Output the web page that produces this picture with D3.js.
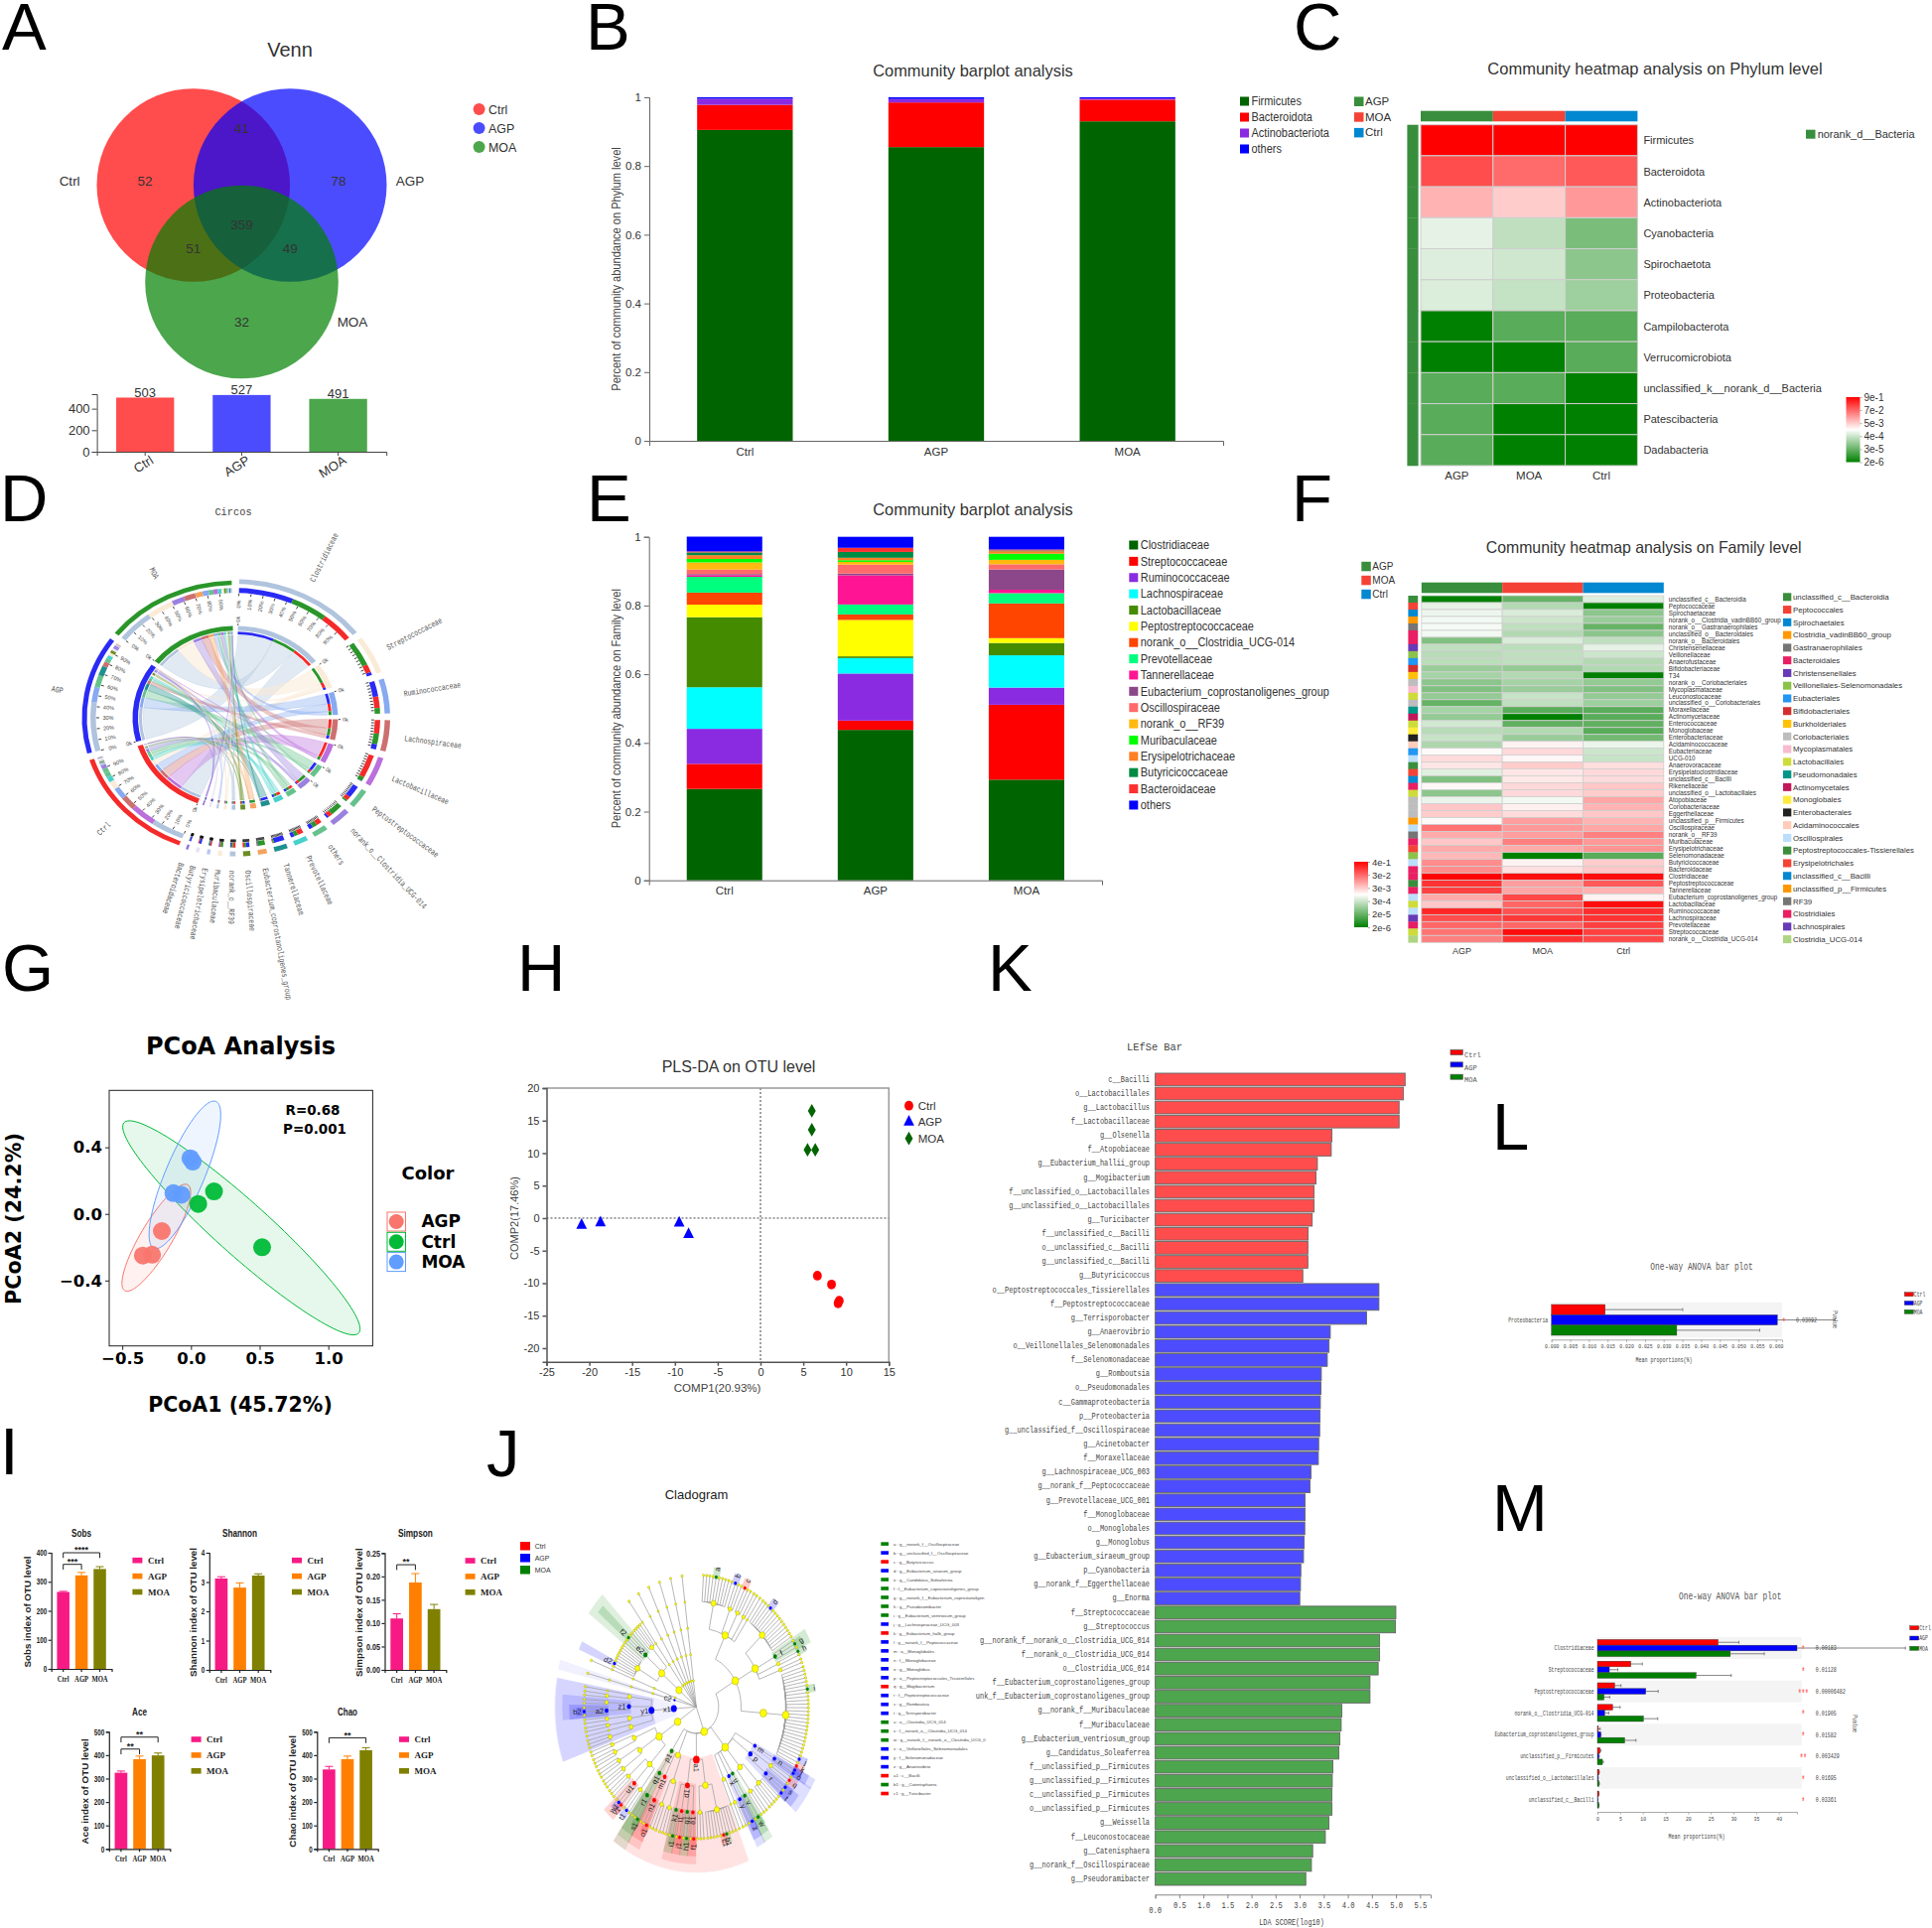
<!DOCTYPE html>
<html>
<head>
<meta charset="utf-8">
<title>Gut microbiota panels</title>
<script src="https://cdnjs.cloudflare.com/ajax/libs/d3/7.8.5/d3.min.js"></script>
<style>
body { margin: 0; background: #fff; }
</style>
</head>
<body>
<div id="figure"></div>
<script>
// ---------- data ----------
const groups = ['Ctrl', 'AGP', 'MOA'];

// A venn
const vennCounts = [52, 41, 78, 359, 51, 49, 32];
const vennTotals = [503, 527, 491];

// B phylum barplot
const phylumNames = ['Firmicutes', 'Bacteroidota', 'Actinobacteriota', 'others'];
const phylumColors = ['#006400', '#ff0000', '#8a2be2', '#0000ff'];
const phylumCtrl = [0.905, 0.073, 0.018, 0.004];
const phylumAgp = [0.855, 0.13, 0.01, 0.005];
const phylumMoa = [0.93, 0.063, 0.004, 0.003];

// C phylum heatmap, -1 = 2e-6 (green), 0 = white, 1 = 9e-1 (red)
const heatCols = ['AGP', 'MOA', 'Ctrl'];
const heatColColors = ['#388e3c', '#f44336', '#0288d1'];
const phylumRows = ['Firmicutes', 'Bacteroidota', 'Actinobacteriota', 'Cyanobacteria', 'Spirochaetota', 'Proteobacteria', 'Campilobacterota', 'Verrucomicrobiota', 'unclassified_k__norank_d__Bacteria', 'Patescibacteria', 'Dadabacteria'];
const phylumHeatAgp = [1, 0.7, 0.3, -0.1, -0.13, -0.14, -1, -1, -0.65, -0.65, -0.65];
const phylumHeatMoa = [1, 0.58, 0.2, -0.25, -0.19, -0.23, -0.65, -1, -0.65, -1, -1];
const phylumHeatCtrl = [1, 0.65, 0.4, -0.52, -0.45, -0.38, -0.65, -0.65, -1, -1, -1];
const phylumTicks = ['9e-1', '7e-2', '5e-3', '4e-4', '3e-5', '2e-6'];

// E family barplot
const familyNames = ['Clostridiaceae', 'Streptococcaceae', 'Ruminococcaceae', 'Lachnospiraceae', 'Lactobacillaceae', 'Peptostreptococcaceae', 'norank_o__Clostridia_UCG-014', 'Prevotellaceae', 'Tannerellaceae', 'Eubacterium_coprostanoligenes_group', 'Oscillospiraceae', 'norank_o__RF39', 'Muribaculaceae', 'Erysipelotrichaceae', 'Butyricicoccaceae', 'Bacteroidaceae', 'others'];
const familyColors = ['#006400', '#ff0000', '#8a2be2', '#00ffff', '#458b00', '#ffff00', '#ff4500', '#00ff7f', '#ff1493', '#8b4789', '#ff6a6a', '#ffb90f', '#00ff00', '#ff7f24', '#008b45', '#ff3030', '#0000ff'];
const familyCtrl = [0.266, 0.073, 0.102, 0.121, 0.204, 0.0365, 0.035, 0.046, 0.005, 0.003, 0.013, 0.021, 0.01, 0.011, 0.008, 0.003, 0.043];
const familyAgp = [0.438, 0.027, 0.137, 0.045, 0.005, 0.106, 0.016, 0.029, 0.085, 0.005, 0.026, 0.008, 0.005, 0.007, 0.017, 0.012, 0.032];
const familyMoa = [0.293, 0.218, 0.05, 0.094, 0.036, 0.014, 0.101, 0.03, 0.01, 0.059, 0.015, 0.013, 0.018, 0.007, 0.002, 0.003, 0.037];

// D circos
const circosOrder = ['Clostridiaceae', 'Streptococcaceae', 'Ruminococcaceae', 'Lachnospiraceae', 'Lactobacillaceae', 'Peptostreptococcaceae', 'norank_o__Clostridia_UCG-014', 'others', 'Prevotellaceae', 'Tannerellaceae', 'Eubacterium_coprostanoligenes_group', 'Oscillospiraceae', 'norank_o__RF39', 'Muribaculaceae', 'Erysipelotrichaceae', 'Butyricicoccaceae', 'Bacteroidaceae'];
const circosColors = ['#b0c4de', '#faebd7', '#87aaf0', '#cd7070', '#ba6fdc', '#66c28c', '#9b80e0', '#66c28c', '#48d1cc', '#1f8f8f', '#f4a460', '#6b8e23', '#b0c4de', '#faebd7', '#b8c8f0', '#e8e4f4', '#9370db'];
const circosSampleColors = ['#f52a2a', '#2a2af5', '#2a962a'];

// F family heatmap
const orderNames = ['unclassified_c__Bacteroidia', 'Peptococcales', 'Spirochaetales', 'Clostridia_vadinBB60_group', 'Gastranaerophilales', 'Bacteroidales', 'Christensenellales', 'Veillonellales-Selenomonadales', 'Eubacteriales', 'Bifidobacteriales', 'Burkholderiales', 'Coriobacteriales', 'Mycoplasmatales', 'Lactobacillales', 'Pseudomonadales', 'Actinomycetales', 'Monoglobales', 'Enterobacterales', 'Acidaminococcales', 'Oscillospirales', 'Peptostreptococcales-Tissierellales', 'Erysipelotrichales', 'unclassified_c__Bacilli', 'unclassified_p__Firmicutes', 'RF39', 'Clostridiales', 'Lachnospirales', 'Clostridia_UCG-014'];
const orderColors = ['#388e3c', '#f44336', '#0288d1', '#ff9800', '#757575', '#e91e63', '#673ab7', '#8bc34a', '#2196f3', '#d32f2f', '#ffc107', '#bdbdbd', '#f8bbd0', '#cddc39', '#009688', '#c2185b', '#ffeb3b', '#212121', '#ffccbc', '#bbdefb', '#388e3c', '#f44336', '#0288d1', '#ff9800', '#757575', '#e91e63', '#673ab7', '#aed581'];
const heatFamilyRows = ['unclassified_c__Bacteroidia', 'Peptococcaceae', 'Spirochaetaceae', 'norank_o__Clostridia_vadinBB60_group', 'norank_o__Gastranaerophilales', 'unclassified_o__Bacteroidales', 'norank_o__Bacteroidales', 'Christensenellaceae', 'Veillonellaceae', 'Anaerofustaceae', 'Bifidobacteriaceae', 'T34', 'norank_o__Coriobacteriales', 'Mycoplasmataceae', 'Leuconostocaceae', 'unclassified_o__Coriobacteriales', 'Moraxellaceae', 'Actinomycetaceae', 'Enterococcaceae', 'Monoglobaceae', 'Enterobacteriaceae', 'Acidaminococcaceae', 'Eubacteriaceae', 'UCG-010', 'Anaerovoracaceae', 'Erysipelatoclostridiaceae', 'unclassified_c__Bacilli', 'Rikenellaceae', 'unclassified_o__Lactobacillales', 'Atopobiaceae', 'Coriobacteriaceae', 'Eggerthellaceae', 'unclassified_p__Firmicutes', 'Oscillospiraceae', 'norank_o__RF39', 'Muribaculaceae', 'Erysipelotrichaceae', 'Selenomonadaceae', 'Butyricicoccaceae', 'Bacteroidaceae', 'Clostridiaceae', 'Peptostreptococcaceae', 'Tannerellaceae', 'Eubacterium_coprostanoligenes_group', 'Lactobacillaceae', 'Ruminococcaceae', 'Lachnospiraceae', 'Prevotellaceae', 'Streptococcaceae', 'norank_o__Clostridia_UCG-014'];
const heatFamilyOrder = [0, 1, 2, 3, 4, 5, 5, 6, 7, 8, 9, 10, 11, 12, 13, 11, 14, 15, 13, 16, 17, 18, 8, 19, 20, 21, 22, 5, 13, 11, 11, 11, 23, 19, 24, 5, 21, 7, 19, 5, 25, 20, 5, 19, 13, 19, 26, 5, 13, 27];
const familyHeatAgp = [-1, -0.1, -0.07, -0.05, -0.04, -0.05, -0.5, -0.25, -0.28, -0.27, -0.4, -0.35, -0.45, -0.5, -0.42, -0.6, -0.35, -0.42, -0.18, -0.28, -0.22, -0.32, 0.02, 0.14, 0.1, -0.12, -0.5, 0.03, -0.45, -0.08, 0.22, 0.2, 0.02, 0.55, 0.33, 0.22, 0.33, 0.28, 0.45, 0.45, 1, 0.8, 0.75, 0.33, 0.22, 0.85, 0.7, 0.6, 0.55, 0.5];
const familyHeatMoa = [-0.6, -0.3, -0.15, -0.2, -0.25, -0.3, -0.15, -0.27, -0.25, -0.25, -0.42, -0.3, -0.35, -0.4, -0.22, -0.25, -0.65, -1, -0.62, -0.3, -0.4, 0.05, 0.15, 0.03, 0.2, 0.1, 0.09, 0.15, 0.15, -0.05, 0.06, 0.14, 0.38, 0.4, 0.38, 0.5, 0.33, -1, 0.05, 0.12, 0.95, 0.38, 0.35, 0.72, 0.6, 0.68, 0.78, 0.6, 0.95, 0.8];
const familyHeatCtrl = [-0.13, -1, -0.45, -0.4, -0.6, -0.45, -0.25, -0.1, -0.2, -0.3, -0.3, -1, -0.42, -0.5, -0.42, -0.38, -0.65, -0.65, -0.62, -0.65, -0.55, -0.08, -0.2, -0.22, 0.13, 0.15, 0.14, 0.22, 0.2, 0.35, 0.3, 0.22, 0.3, 0.35, 0.5, 0.4, 0.42, -0.65, 0.2, 0.22, 0.95, 0.65, 0.3, 0.05, 0.95, 0.82, 0.8, 0.75, 0.75, 0.72];
const familyTicks = ['4e-1', '3e-2', '3e-3', '3e-4', '2e-5', '2e-6'];

// G PCoA
const pcoaGroups = ['AGP', 'Ctrl', 'MOA'];
const pcoaColors = ['#f8766d', '#00ba38', '#619cff'];
const pcoaX = [[-0.35, -0.283, -0.212], [0.053, 0.168, 0.518], [-0.004, 0.013, -0.128, -0.07]];
const pcoaY = [[-0.25, -0.245, -0.103], [0.06, 0.135, -0.2], [0.334, 0.314, 0.125, 0.115]];
// centre, half major axis, half minor axis of each ellipse, in axis units
const pcoaEllipses = [[-0.252, -0.143, 0.23, 0.318, 0.098, -0.048], [0.367, -0.0835, 0.854, -0.632, 0.13, 0.119], [-0.044, 0.2346, 0.226, 0.441, 0.13, -0.046]];

// H PLS-DA
const plsColors = ['#ff0000', '#0000ff', '#006400'];
const plsX = [[6.65, 8.3, 9.07, 9.2], [-20.9, -18.7, -9.5, -8.4], [6, 6, 5.5, 6.4]];
const plsY = [[-8.85, -10.2, -13.1, -12.7], [-1.1, -0.7, -0.75, -2.5], [16.5, 13.6, 10.5, 10.5]];

// I alpha diversity
const indexColors = ['#f81a84', '#ff8000', '#808000'];
const sobsValues = [265, 322, 344];
const sobsErrors = [2, 10, 8];
const shannonValues = [3.12, 2.81, 3.22];
const shannonErrors = [0.06, 0.16, 0.06];
const simpsonValues = [0.11, 0.187, 0.13];
const simpsonErrors = [0.01, 0.019, 0.01];
const aceValues = [325, 383, 399];
const aceErrors = [7, 13, 10];
const chaoValues = [339, 383, 421];
const chaoErrors = [13, 13, 11];

// J cladogram, written clockwise from the top in newick form
const cladeFirmicutes = [
  '(((,,,,a,,,,,),(b,,),(c,,),(,),()),((,,,d,,,,,,,,,,),(,g,)f,(h,),(,)),((,,,,,,i,,,,,,,,,,,,,,,,,,,j,,k)))',
  '(((l,o)n)m,((,q,),(s,,t)r)p,((,,,,),(,,)),((w,)v)u,((z,)y)x,((,),()))',
  '(((,,,b1,c1,,,,,),(,,)),((f1,)e1,(h1,)g1,(j1,)l1,(i1,)k1)d1)a1',
  '(((,,),(,,)),((o1,,)n1)m1)',
  '(((s1,,)r1)q1)p1'
];
const cladeOthers = [
  '((((,t1,),(v1,w1,)u1,(,,)),((,,),(,,)),((,,),(,))))',
  '((((,,),()),((,),(,)),((,b2,)a2,(,))z1,((,),()))y1)x1',
  '(((())))c2', '(((())))',
  '(((,d2,,,,,,,),(,,f2,,)e2,(,,,)))',
  '(((())))', '(((())))', '(((())))', '(((())))', '(((())))', '(((())))'
];
const cladeCtrl = ['c', 'k', 'q', 'a1', 'c1', 'd1', 'e1', 'f1', 'j1', 'l1', 'm1', 'n1', 'o1', 'u1', 'v1'];
const cladeAgp = ['b', 'd', 'j', 'l', 'm', 'n', 'o', 'p', 'r', 's', 't', 'x', 'y', 'z', 't1', 'w1', 'x1', 'y1', 'z1', 'a2', 'b2', 'c2', 'd2'];
const cladeMoa = ['a', 'e', 'f', 'g', 'h', 'i', 'u', 'v', 'w', 'b1', 'g1', 'h1', 'i1', 'k1', 'p1', 'q1', 'r1', 's1', 'e2', 'f2'];
const cladeLegend = ['a : g__norank_f__Oscillospiraceae', 'b : g__unclassified_f__Oscillospiraceae', 'c : g__Butyricicoccus', 'd : g__Eubacterium_siraeum_group', 'e : g__Candidatus_Soleaferrea', 'f : f__Eubacterium_coprostanoligenes_group', 'g : g__norank_f__Eubacterium_coprostanoligen', 'h : g__Pseudoramibacter', 'i : g__Eubacterium_ventriosum_group', 'j : g__Lachnospiraceae_UCG_003', 'k : g__Eubacterium_hallii_group', 'l : g__norank_f__Peptococcaceae', 'm : o__Monoglobales', 'n : f__Monoglobaceae', 'o : g__Monoglobus', 'p : o__Peptostreptococcales_Tissierellales', 'q : g__Mogibacterium', 'r : f__Peptostreptococcaceae', 's : g__Romboutsia', 't : g__Terrisporobacter', 'u : o__Clostridia_UCG_014', 'v : f__norank_o__Clostridia_UCG_014', 'w : g__norank_f__norank_o__Clostridia_UCG_0', 'x : o__Veillonellales_Selenomonadales', 'y : f__Selenomonadaceae', 'z : g__Anaerovibrio', 'a1 : c__Bacilli', 'b1 : g__Catenisphaera', 'c1 : g__Turicibacter'];
const cladeLegendGroups = [2, 1, 0, 1, 2, 2, 2, 2, 2, 1, 0, 1, 1, 1, 1, 1, 0, 1, 1, 1, 2, 2, 2, 1, 1, 1, 0, 2, 0];

// K LEfSe
const lefseCtrlNames = ['c__Bacilli', 'o__Lactobacillales', 'g__Lactobacillus', 'f__Lactobacillaceae', 'g__Olsenella', 'f__Atopobiaceae', 'g__Eubacterium_hallii_group', 'g__Mogibacterium', 'f__unclassified_o__Lactobacillales', 'g__unclassified_o__Lactobacillales', 'g__Turicibacter', 'f__unclassified_c__Bacilli', 'o__unclassified_c__Bacilli', 'g__unclassified_c__Bacilli', 'g__Butyricicoccus'];
const lefseCtrl = [5.19, 5.155, 5.065, 5.065, 3.67, 3.656, 3.368, 3.34, 3.3, 3.3, 3.26, 3.175, 3.17, 3.17, 3.065];
const lefseAgpNames = ['o__Peptostreptococcales_Tissierellales', 'f__Peptostreptococcaceae', 'g__Terrisporobacter', 'g__Anaerovibrio', 'o__Veillonellales_Selenomonadales', 'f__Selenomonadaceae', 'g__Romboutsia', 'o__Pseudomonadales', 'c__Gammaproteobacteria', 'p__Proteobacteria', 'g__unclassified_f__Oscillospiraceae', 'g__Acinetobacter', 'f__Moraxellaceae', 'g__Lachnospiraceae_UCG_003', 'g__norank_f__Peptococcaceae', 'g__Prevotellaceae_UCG_001', 'f__Monoglobaceae', 'o__Monoglobales', 'g__Monoglobus', 'g__Eubacterium_siraeum_group', 'p__Cyanobacteria', 'g__norank_f__Eggerthellaceae', 'g__Enorma'];
const lefseAgp = [4.646, 4.646, 4.39, 3.636, 3.61, 3.574, 3.45, 3.443, 3.43, 3.423, 3.416, 3.395, 3.388, 3.237, 3.216, 3.113, 3.113, 3.106, 3.093, 3.08, 3.024, 3.017, 3.003];
const lefseMoaNames = ['f__Streptococcaceae', 'g__Streptococcus', 'g__norank_f__norank_o__Clostridia_UCG_014', 'f__norank_o__Clostridia_UCG_014', 'o__Clostridia_UCG_014', 'f__Eubacterium_coprostanoligenes_group', 'unk_f__Eubacterium_coprostanoligenes_group', 'g__norank_f__Muribaculaceae', 'f__Muribaculaceae', 'g__Eubacterium_ventriosum_group', 'g__Candidatus_Soleaferrea', 'f__unclassified_p__Firmicutes', 'g__unclassified_p__Firmicutes', 'c__unclassified_p__Firmicutes', 'o__unclassified_p__Firmicutes', 'g__Weissella', 'f__Leuconostocaceae', 'g__Catenisphaera', 'g__norank_f__Oscillospiraceae', 'g__Pseudoramibacter'];
const lefseMoa = [4.997, 4.99, 4.66, 4.66, 4.63, 4.46, 4.46, 3.876, 3.862, 3.835, 3.814, 3.69, 3.677, 3.67, 3.67, 3.608, 3.533, 3.27, 3.244, 3.127];
const lefseTicks = [0.5, 1, 1.5, 2, 2.5, 3, 3.5, 4, 4.5, 5, 5.5];

// L, M one-way ANOVA
const anovaColors = ['#ff0000', '#0000ff', '#008000'];
const anovaLRows = ['Proteobacteria'];
const anovaLMeans = [[0.01435], [0.0604], [0.0335]];
const anovaLEnds = [[0.0351], [0.0758], [0.0557]];
const anovaLP = ['0.03092'];
const anovaLStars = ['*'];
const anovaMRows = ['Clostridiaceae', 'Streptococcaceae', 'Peptostreptococcaceae', 'norank_o__Clostridia_UCG-014', 'Eubacterium_coprostanoligenes_group', 'unclassified_p__Firmicutes', 'unclassified_o__Lactobacillales', 'unclassified_c__Bacilli'];
const anovaMCtrl = [26.6, 7.37, 3.8, 3.36, 0.2, 0.58, 0.36, 0.3];
const anovaMAgp = [44, 2.63, 10.66, 1.6, 0.73, 0.3, 0.15, 0.1];
const anovaMMoa = [29.3, 21.75, 1.46, 10.15, 6, 1.1, 0.36, 0.3];
const anovaMCtrlEnd = [31.2, 9.9, 5.2, 5, 0.6, 0.8, 0.44, 0.36];
const anovaMAgpEnd = [67.9, 4.5, 13.4, 2.5, 0.8, 0.44, 0.2, 0.15];
const anovaMMoaEnd = [36.8, 29.5, 2.7, 13.3, 8.5, 1.3, 0.44, 0.36];
const anovaMP = ['0.00183', '0.01128', '0.00006482', '0.01905', '0.01582', '0.003429', '0.01695', '0.03361'];
const anovaMStars = ['*', '*', '***', '*', '*', '**', '*', '*'];

// ---------- helpers ----------
const SANS = '"Liberation Sans", Arial, sans-serif';
const MONO = '"Liberation Mono", monospace';
const SERIF = '"Liberation Serif", serif';
const BOLD = '"DejaVu Sans", sans-serif';

const svg = d3.select('#figure').append('svg')
  .attr('width', 1946).attr('height', 1942)
  .style('display', 'block').style('background', '#fff');

function txt(parent, s, x, y, o = {}) {
  const t = parent.append('text')
    .attr('x', x).attr('y', y).attr('dy', '.35em').text(s)
    .attr('font-family', o.font || SANS)
    .attr('font-size', o.size || 12)
    .attr('text-anchor', o.anchor || 'start')
    .attr('fill', o.color || '#333');
  if (o.weight) t.attr('font-weight', o.weight);
  if (o.rotate !== undefined) t.attr('transform', `rotate(${o.rotate} ${x} ${y})`);
  if (o.charW) t.attr('textLength', String(s).length * o.charW).attr('lengthAdjust', 'spacingAndGlyphs');
  // the source image is a little squashed sideways, so narrow the glyphs to fit
  if (o.squeeze) t.attr('textLength', t.node().getComputedTextLength() * o.squeeze).attr('lengthAdjust', 'spacingAndGlyphs');
  return t;
}

function styleAxis(g, o = {}) {
  g.selectAll('text')
    .attr('font-family', o.font || SANS)
    .attr('font-size', o.size || 11)
    .attr('fill', o.color || '#333')
    .attr('font-weight', o.weight || null)
    .each(function () {
      if (o.charW) {
        this.setAttribute('textLength', this.textContent.length * o.charW);
        this.setAttribute('lengthAdjust', 'spacingAndGlyphs');
      }
      if (o.squeeze) {
        this.setAttribute('textLength', this.getComputedTextLength() * o.squeeze);
        this.setAttribute('lengthAdjust', 'spacingAndGlyphs');
      }
    });
  g.selectAll('line,path').attr('stroke', o.stroke || '#444').attr('stroke-width', o.width || 1);
  return g;
}

const heatColor = d3.scaleLinear().domain([-1, 0, 1]).range(['#008000', '#ffffff', '#ff0000']);

// panel letters
[['A', 2, 50], ['B', 590, 50], ['C', 1303, 50], ['D', 0, 525], ['E', 591, 525], ['F', 1301, 525],
  ['G', 2, 998], ['H', 521, 998], ['K', 995, 998], ['L', 1503, 1158], ['I', 0, 1485], ['J', 490, 1487], ['M', 1503, 1542]]
  .forEach(d => svg.append('text').attr('x', d[1]).attr('y', d[2]).text(d[0])
    .attr('font-family', SANS).attr('font-size', 67).attr('fill', '#000'));

// ---------- A venn ----------
const panelA = svg.append('g');
const vennX = d3.scaleLinear().domain([0, 1]).range([194.8, 292.2]);
const vennY = d3.scaleLinear().domain([0, 1]).range([186.5, 284]);
const vennCircleColors = ['#ff0000', '#0000ff', '#008000'];
panelA.selectAll('circle.venn').data([[0, 0], [1, 0], [0.5, 1]]).enter().append('circle')
  .attr('class', 'venn')
  .attr('cx', d => vennX(d[0])).attr('cy', d => vennY(d[1])).attr('r', 97.3)
  .attr('fill', (d, i) => vennCircleColors[i]).attr('fill-opacity', 0.7);
txt(panelA, 'Venn', 292, 50, {size: 20, anchor: 'middle'});
[[-1.28, 0, 'Ctrl'], [2.24, 0, 'AGP'], [1.645, 1.45, 'MOA']].forEach(d => txt(panelA, d[2], vennX(d[0]), vennY(d[1]) - 4, {size: 13.5, anchor: 'middle'}));
[[-0.5, 0], [0.5, -0.55], [1.5, 0], [0.5, 0.45], [0, 0.7], [1, 0.7], [0.5, 1.45]].forEach((d, i) =>
  txt(panelA, vennCounts[i], vennX(d[0]), vennY(d[1]) - 4, {size: 13.5, anchor: 'middle'}));
groups.forEach((g, i) => {
  panelA.append('circle').attr('cx', 482.6).attr('cy', 110 + i * 19).attr('r', 6).attr('fill', vennCircleColors[i]).attr('fill-opacity', 0.7);
  txt(panelA, g, 492, 110 + i * 19, {size: 13.5, squeeze: 0.92});
});
const vennBarX = d3.scaleBand().domain(groups).range([97.6, 389.2]).paddingInner(0.4).paddingOuter(0.2);
const vennBarY = d3.scaleLinear().domain([0, 535]).range([455, 397]);
panelA.selectAll('rect.total').data(vennTotals).enter().append('rect')
  .attr('class', 'total')
  .attr('x', (d, i) => vennBarX(groups[i])).attr('width', vennBarX.bandwidth())
  .attr('y', d => vennBarY(d)).attr('height', d => 455 - vennBarY(d))
  .attr('fill', (d, i) => vennCircleColors[i]).attr('fill-opacity', 0.7);
vennTotals.forEach((v, i) => txt(panelA, v, vennBarX(groups[i]) + vennBarX.bandwidth() / 2, vennBarY(v) - 5, {size: 13, anchor: 'middle'}));
styleAxis(panelA.append('g').attr('transform', 'translate(97.6,0)').call(d3.axisLeft(vennBarY).tickValues([0, 200, 400]).tickSize(5).tickPadding(2)), {size: 13});
const vennXAxis = panelA.append('g').attr('transform', 'translate(0,455)').call(d3.axisBottom(vennBarX).tickSize(4));
styleAxis(vennXAxis, {size: 13});
vennXAxis.selectAll('text').attr('text-anchor', 'end').attr('transform', 'rotate(-32) translate(2,-2)');

// ---------- B, E stacked bars ----------
function stackPanel(o) {
  const g = svg.append('g');
  const rows = groups.map((name, i) => {
    const row = {group: name};
    o.names.forEach((n, j) => { row[n] = o.values[i][j]; });
    return row;
  });
  const x = d3.scaleBand().domain(groups).range([o.x0, o.x1]).paddingInner(0.5).paddingOuter(0.25);
  const y = d3.scaleLinear().domain([0, 1]).range([o.base, o.top]);
  const stacked = d3.stack().keys(o.names)(rows);
  g.selectAll('g.layer').data(stacked).enter().append('g')
    .attr('class', 'layer').attr('fill', (d, i) => o.colors[i])
    .selectAll('rect').data(d => d).enter().append('rect')
    .attr('x', d => x(d.data.group)).attr('width', x.bandwidth())
    .attr('y', d => y(d[1])).attr('height', d => y(d[0]) - y(d[1]));
  styleAxis(g.append('g').attr('transform', `translate(${o.x0},0)`).call(d3.axisLeft(y).ticks(5).tickFormat(d => d === 0 ? '0' : d === 1 ? '1' : d).tickSizeOuter(0).tickSize(5)), {size: 11.5, stroke: '#666'});
  styleAxis(g.append('g').attr('transform', `translate(0,${o.base})`).call(d3.axisBottom(x).tickSizeInner(0).tickSizeOuter(5).tickPadding(6.5)), {size: 11.5, stroke: '#666'});
  txt(g, o.title, 980, o.titleY, {size: 17, anchor: 'middle', squeeze: 0.965});
  txt(g, o.ylabel, 620.5, (o.top + o.base) / 2, {size: 12, anchor: 'middle', rotate: -90, color: '#444', squeeze: 0.92});
  o.names.forEach((n, i) => {
    g.append('rect').attr('x', o.legendX).attr('y', o.legendY + i * o.legendStep - 4.5).attr('width', 9).attr('height', 9).attr('fill', o.colors[i]);
    txt(g, n, o.legendX + 11.5, o.legendY + i * o.legendStep, {size: 12, squeeze: 0.91});
  });
}
stackPanel({names: phylumNames, colors: phylumColors, values: [phylumCtrl, phylumAgp, phylumMoa],
  x0: 654, x1: 1232, top: 98, base: 444, title: 'Community barplot analysis', titleY: 71,
  ylabel: 'Percent of community abundance on Phylum level', legendX: 1249, legendY: 102, legendStep: 16});
stackPanel({names: familyNames, colors: familyColors, values: [familyCtrl, familyAgp, familyMoa],
  x0: 653.7, x1: 1110, top: 540.7, base: 886.7, title: 'Community barplot analysis', titleY: 513,
  ylabel: 'Percent of community abundance on Family level', legendX: 1137.3, legendY: 549, legendStep: 16.37});

// ---------- C, F heatmaps ----------
function heatPanel(o) {
  const g = svg.append('g');
  const x = d3.scaleBand().domain(heatCols).range([o.x0, o.x1]);
  const y = d3.scaleBand().domain(o.rows.map((r, i) => i)).range([o.y0, o.y1]);
  heatCols.forEach((c, j) => {
    g.selectAll(null).data(o.values[j]).enter().append('rect')
      .attr('x', x(c)).attr('width', x.bandwidth())
      .attr('y', (d, i) => y(i)).attr('height', y.bandwidth())
      .attr('fill', d => heatColor(d)).attr('stroke', '#cfcfcf').attr('stroke-width', o.stroke);
    g.append('rect').attr('x', x(c)).attr('width', x.bandwidth()).attr('y', o.annTop).attr('height', o.annH).attr('fill', heatColColors[j]);
    txt(g, c, x(c) + x.bandwidth() / 2, o.colY, {size: o.colSize, anchor: 'middle'});
  });
  o.rows.forEach((r, i) => {
    txt(g, r, o.x1 + o.labelGap, y(i) + y.bandwidth() / 2, {size: o.rowSize, squeeze: o.rowSqueeze});
    g.append('rect').attr('x', o.sideX).attr('width', o.sideW).attr('y', y(i)).attr('height', y.bandwidth() + 0.3)
      .attr('fill', o.sideColors[i]);
  });
  heatCols.forEach((c, j) => {
    g.append('rect').attr('x', o.legendX).attr('y', o.legendY + j * o.legendStep - 4.5).attr('width', 9.5).attr('height', 9.5).attr('fill', heatColColors[j]);
    txt(g, c, o.legendX + 11, o.legendY + j * o.legendStep, {size: o.legendSize});
  });
  // colour bar
  const gid = 'bar' + o.id;
  const grad = svg.append('defs').append('linearGradient').attr('id', gid).attr('x1', 0).attr('x2', 0).attr('y1', 0).attr('y2', 1);
  [1, 0.75, 0.5, 0.25, 0, -0.25, -0.5, -0.75, -1].forEach((v, i) => grad.append('stop').attr('offset', i / 8).attr('stop-color', heatColor(v)));
  const bar = d3.scalePoint().domain(o.ticks).range([o.barTop, o.barBottom]);
  g.append('rect').attr('x', o.barX).attr('y', o.barTop).attr('width', 14).attr('height', o.barBottom - o.barTop).attr('fill', `url(#${gid})`);
  styleAxis(g.append('g').attr('transform', `translate(${o.barX + 14},0)`).call(d3.axisRight(bar).tickSize(2).tickPadding(2)), {size: o.barSize, stroke: '#aaa'});
  g.select('.domain').remove();
  txt(g, o.title, o.titleX, o.titleY, {size: o.titleSize, anchor: 'middle', squeeze: o.titleSqueeze});
  return g;
}
const panelC = heatPanel({id: 'C', rows: phylumRows, values: [phylumHeatAgp, phylumHeatMoa, phylumHeatCtrl],
  x0: 1431, x1: 1649.4, y0: 125.7, y1: 469, stroke: 1, annTop: 111.7, annH: 10.6, colY: 478.7, colSize: 11.5,
  labelGap: 6, rowSize: 11.5, rowSqueeze: 0.955, sideX: 1417.4, sideW: 11.2, sideColors: phylumRows.map(() => '#388e3c'),
  legendX: 1364, legendY: 102, legendStep: 15.7, legendSize: 11.5, ticks: phylumTicks,
  barX: 1859.5, barTop: 400, barBottom: 465.5, barSize: 10, title: 'Community heatmap analysis on Phylum level', titleX: 1667, titleY: 69, titleSize: 17, titleSqueeze: 0.97});
panelC.append('rect').attr('x', 1819).attr('y', 130.7).attr('width', 9.5).attr('height', 9).attr('fill', '#388e3c');
txt(panelC, 'norank_d__Bacteria', 1830.7, 135, {size: 11.5, squeeze: 0.95});

const panelF = heatPanel({id: 'F', rows: heatFamilyRows, values: [familyHeatAgp, familyHeatMoa, familyHeatCtrl],
  x0: 1431.8, x1: 1675.8, y0: 600, y1: 949.3, stroke: 0.8, annTop: 586.7, annH: 10.6, colY: 957.7, colSize: 9,
  labelGap: 5, rowSize: 6.3, rowSqueeze: 1, sideX: 1418.4, sideW: 9.8, sideColors: heatFamilyOrder.map(k => orderColors[k]),
  legendX: 1371.3, legendY: 570.3, legendStep: 14, legendSize: 10, ticks: familyTicks,
  barX: 1364, barTop: 868, barBottom: 934, barSize: 9.5, title: 'Community heatmap analysis on Family level', titleX: 1655.6, titleY: 551, titleSize: 16.5, titleSqueeze: 0.96});
orderNames.forEach((n, i) => {
  panelF.append('rect').attr('x', 1796).attr('y', 601.3 + i * 12.77 - 4).attr('width', 8.3).attr('height', 8).attr('fill', orderColors[i]);
  txt(panelF, n, 1806, 601.3 + i * 12.77, {size: 7.8});
});

// ---------- D circos ----------
const panelD = svg.append('g');
const circosCx = 237, circosCy = 723, circosSquash = 0.895, circosRot = 1.5;
const nFam = circosOrder.length;
const circosNames = circosOrder.concat(groups);
const familyTable = [familyCtrl, familyAgp, familyMoa];
const circosMatrix = circosNames.map((a, i) => circosNames.map((b, j) => {
  if (i < nFam && j >= nFam) return familyTable[j - nFam][familyNames.indexOf(a)];
  if (i >= nFam && j < nFam) return familyTable[i - nFam][familyNames.indexOf(b)];
  return 0;
}));
const chords = d3.chord().padAngle(0.05).sortSubgroups(d3.descending)(circosMatrix);
const circosInner = panelD.append('g')
  .attr('transform', `translate(${circosCx},${circosCy}) scale(1,${circosSquash}) rotate(${circosRot})`);
const groupColor = i => i < nFam ? circosColors[i] : circosSampleColors[i - nFam];
const circosPt = (deg, r) => [circosCx + r * Math.sin(deg * Math.PI / 180), circosCy - circosSquash * r * Math.cos(deg * Math.PI / 180)];

circosInner.selectAll('path.rib').data(chords).enter().append('path')
  .attr('class', 'rib')
  .attr('d', d3.ribbon().radius(93))
  .attr('fill', d => circosColors[Math.min(d.source.index, d.target.index)])
  .attr('fill-opacity', d => Math.min(d.source.index, d.target.index) === 1 || Math.min(d.source.index, d.target.index) === 13 ? 0.55 : 0.38)
  .attr('stroke', d => circosColors[Math.min(d.source.index, d.target.index)])
  .attr('stroke-opacity', 0.6).attr('stroke-width', 0.4);

function circosBand(inner, outer, list, colorFn) {
  circosInner.selectAll(null).data(list).enter().append('path')
    .attr('d', d3.arc().innerRadius(inner).outerRadius(outer))
    .attr('fill', colorFn);
}
const sampleOuterColor = d => groupColor(d.index);
circosBand(150.5, 156, chords.groups.filter(d => d.index < nFam), sampleOuterColor);
circosBand(149.5, 154.5, chords.groups.filter(d => d.index >= nFam), sampleOuterColor);
circosBand(98, 103.5, chords.groups, sampleOuterColor);

const chordEnds = [];
chords.forEach(c => {
  chordEnds.push({startAngle: c.source.startAngle, endAngle: c.source.endAngle, index: c.source.index, other: c.target.index});
  chordEnds.push({startAngle: c.target.startAngle, endAngle: c.target.endAngle, index: c.target.index, other: c.source.index});
});
circosBand(140.5, 146, chordEnds, d => groupColor(d.other));
circosBand(94, 97, chordEnds, d => groupColor(d.other));

const percentTicks = d3.range(0, 10);
chords.groups.forEach(g => {
  const tickScale = d3.scaleLinear().domain([0, 10]).range([g.startAngle, g.endAngle]);
  const labelled = g.index === 0 || g.index >= nFam;
  percentTicks.forEach(t => {
    const deg = tickScale(t) * 180 / Math.PI + circosRot;
    const p0 = circosPt(deg, 137), p1 = circosPt(deg, 140);
    panelD.append('line').attr('x1', p0[0]).attr('y1', p0[1]).attr('x2', p1[0]).attr('y2', p1[1]).attr('stroke', '#111').attr('stroke-width', 0.8);
    if (labelled) {
      const pt = circosPt(deg, 128);
      txt(panelD, (t * 10) + '%', pt[0], pt[1], {size: 5.5, anchor: 'middle', rotate: deg < 180 ? deg - 90 : deg + 90, color: '#444'});
    }
  });
  const deg0 = g.startAngle * 180 / Math.PI + circosRot;
  if (g.index < 7 || g.index >= nFam) {
    const q0 = circosPt(deg0, 104), q1 = circosPt(deg0, 106), lab = circosPt(deg0, 111);
    panelD.append('line').attr('x1', q0[0]).attr('y1', q0[1]).attr('x2', q1[0]).attr('y2', q1[1]).attr('stroke', '#111').attr('stroke-width', 0.8);
    txt(panelD, '0k', lab[0], lab[1], {size: 5.5, anchor: 'middle', rotate: deg0 < 180 ? deg0 - 90 : deg0 + 90, color: '#444'});
  }
  const mid = (g.startAngle + g.endAngle) / 2 * 180 / Math.PI + circosRot;
  if (g.index < nFam) {
    const p = circosPt(mid, 172);
    txt(panelD, circosNames[g.index], p[0], p[1], {font: MONO, size: 8.5, charW: 3.85, rotate: mid - 90, color: '#555'});
  } else {
    const p = circosPt(mid, 182);
    txt(panelD, circosNames[g.index], p[0], p[1], {font: MONO, size: 8.5, charW: 3.85, anchor: 'middle', rotate: mid - 270, color: '#555'});
  }
});
txt(panelD, 'Circos', 235, 515, {font: MONO, size: 10.5, charW: 6.2, anchor: 'middle', color: '#444'});

// ---------- G PCoA ----------
const panelG = svg.append('g');
const pcoaXs = d3.scaleLinear().domain([-0.595, 1.323]).range([110, 375.4]);
const pcoaYs = d3.scaleLinear().domain([-0.793, 0.742]).range([1355.7, 1098.3]);
const ellipseTurns = d3.range(0, 6.3, 0.05);
pcoaEllipses.forEach((e, i) => {
  panelG.append('path')
    .attr('d', d3.line().x(t => pcoaXs(e[0] + e[2] * Math.cos(t) + e[4] * Math.sin(t))).y(t => pcoaYs(e[1] + e[3] * Math.cos(t) + e[5] * Math.sin(t))).curve(d3.curveCardinalClosed)(ellipseTurns))
    .attr('fill', pcoaColors[i]).attr('fill-opacity', 0.1).attr('stroke', pcoaColors[i]).attr('stroke-width', 1);
});
pcoaGroups.forEach((name, i) => {
  panelG.selectAll(null).data(pcoaX[i]).enter().append('circle')
    .attr('cx', d => pcoaXs(d)).attr('cy', (d, j) => pcoaYs(pcoaY[i][j])).attr('r', 9)
    .attr('fill', pcoaColors[i]).attr('fill-opacity', 0.95);
  panelG.append('rect').attr('x', 390).attr('y', 1221 + i * 20.3).attr('width', 18.5).attr('height', 19).attr('fill', '#fff').attr('stroke', pcoaColors[i]).attr('stroke-width', 1);
  panelG.append('circle').attr('cx', 399.2).attr('cy', 1230.5 + i * 20.3).attr('r', 7.5).attr('fill', pcoaColors[i]);
  txt(panelG, name, 424.4, 1230.5 + i * 20.3, {font: BOLD, weight: 'bold', size: 17, color: '#000'});
});
panelG.append('rect').attr('x', 110).attr('y', 1098.3).attr('width', 265.4).attr('height', 257.4).attr('fill', 'none').attr('stroke', '#222').attr('stroke-width', 1);
styleAxis(panelG.append('g').attr('transform', 'translate(0,1355.7)').call(d3.axisBottom(pcoaXs).tickValues([-0.5, 0, 0.5, 1]).tickFormat(d3.format('.1f')).tickSizeOuter(0).tickSize(4)), {font: BOLD, weight: 'bold', size: 16.5, color: '#000', stroke: '#222'});
styleAxis(panelG.append('g').attr('transform', 'translate(110,0)').call(d3.axisLeft(pcoaYs).tickValues([-0.4, 0, 0.4]).tickFormat(d3.format('.1f')).tickSizeOuter(0).tickSize(4)), {font: BOLD, weight: 'bold', size: 16.5, color: '#000', stroke: '#222'});
panelG.selectAll('.domain').attr('stroke', 'none');
txt(panelG, 'PCoA Analysis', 242.5, 1054, {font: BOLD, weight: 'bold', size: 24, anchor: 'middle', color: '#000'});
txt(panelG, 'PCoA1 (45.72%)', 242, 1415, {font: BOLD, weight: 'bold', size: 20.5, anchor: 'middle', color: '#000'});
txt(panelG, 'PCoA2 (24.2%)', 13.5, 1227.5, {font: BOLD, weight: 'bold', size: 20.7, anchor: 'middle', rotate: -90, color: '#000'});
txt(panelG, 'R=0.68', 315, 1118.7, {font: BOLD, weight: 'bold', size: 13.5, anchor: 'middle', color: '#000'});
txt(panelG, 'P=0.001', 317, 1137, {font: BOLD, weight: 'bold', size: 13.5, anchor: 'middle', color: '#000'});
txt(panelG, 'Color', 431, 1182, {font: BOLD, weight: 'bold', size: 18, anchor: 'middle', color: '#000'});

// ---------- H PLS-DA ----------
const panelH = svg.append('g');
const plsXs = d3.scaleLinear().domain([-25, 15]).range([550.5, 895.3]);
const plsYs = d3.scaleLinear().domain([-22.1, 20]).range([1371.7, 1096]);
const plsSymbols = [d3.symbolCircle, d3.symbolTriangle, d3.symbolDiamond];
const plsTransform = [' scale(1,1.1)', ' scale(1,1.15)', ' scale(1.1,1.1)'];
panelH.append('path').attr('d', `M${plsXs(-25)},${plsYs(0)}H${plsXs(15)}M${plsXs(0)},${plsYs(20)}V${plsYs(-22.1)}`).attr('stroke', '#444').attr('stroke-dasharray', '2,2').attr('fill', 'none');
panelH.append('path').attr('d', `M${plsXs(-25)},${plsYs(20)}H${plsXs(15)}V${plsYs(-22.1)}`).attr('stroke', '#999').attr('stroke-width', 1.5).attr('fill', 'none');
styleAxis(panelH.append('g').attr('transform', `translate(0,${plsYs(-22.1)})`).call(d3.axisBottom(plsXs).tickValues(d3.range(-25, 16, 5)).tickSizeOuter(0).tickSize(4).tickFormat(d => d)), {size: 11, stroke: '#555', width: 1.5});
styleAxis(panelH.append('g').attr('transform', `translate(${plsXs(-25)},0)`).call(d3.axisLeft(plsYs).tickValues(d3.range(-20, 21, 5)).tickSizeOuter(0).tickSize(4).tickFormat(d => d)), {size: 11, stroke: '#555', width: 1.5});
groups.forEach((name, i) => {
  const sym = d3.symbol().type(plsSymbols[i]).size(i === 0 ? 62 : i === 1 ? 50 : 45);
  panelH.selectAll(null).data(plsX[i]).enter().append('path')
    .attr('d', sym)
    .attr('transform', (d, j) => `translate(${plsXs(d)},${plsYs(plsY[i][j])})${plsTransform[i]}`)
    .attr('fill', plsColors[i]);
  panelH.append('path').attr('d', sym).attr('transform', `translate(915.5,${1113.7 + i * 16.5})${plsTransform[i]}`).attr('fill', plsColors[i]);
  txt(panelH, name, 924.7, 1113.7 + i * 16.5, {size: 11.5});
});
txt(panelH, 'PLS-DA on OTU level', 744, 1074, {size: 16, anchor: 'middle'});
txt(panelH, 'COMP1(20.93%)', 722.6, 1398, {size: 11.5, anchor: 'middle', color: '#444'});
txt(panelH, 'COMP2(17.46%)', 518, 1227, {size: 11, anchor: 'middle', rotate: -90, color: '#444'});

// ---------- I alpha diversity ----------
function indexPanel(o) {
  const g = svg.append('g');
  const x = d3.scaleBand().domain(groups).range([o.x0, o.x1]).paddingInner(0.32).paddingOuter(0.31);
  const y = d3.scaleLinear().domain([0, o.max]).range([o.base, o.top]);
  g.selectAll(null).data(o.errors).enter().append('path')
    .attr('d', (e, i) => {
      const c = x(groups[i]) + x.bandwidth() / 2, v = o.values[i];
      return `M${c},${y(v)}V${y(v + e)}M${c - 4},${y(v + e)}H${c + 4}`;
    })
    .attr('stroke', (d, i) => indexColors[i]).attr('stroke-width', 1).attr('fill', 'none');
  g.selectAll(null).data(o.values).enter().append('rect')
    .attr('x', (d, i) => x(groups[i])).attr('width', x.bandwidth())
    .attr('y', d => y(d)).attr('height', d => o.base - y(d))
    .attr('fill', (d, i) => indexColors[i]);
  styleAxis(g.append('g').attr('transform', `translate(${o.x0},0)`).call(d3.axisLeft(y).tickValues(o.ticks).tickFormat(o.format).tickSizeOuter(0).tickSize(3).tickPadding(1.5)), {size: 8.5, weight: 'bold', charW: 3.5, stroke: '#222', width: 1.2, color: '#222'});
  const xAxis = styleAxis(g.append('g').attr('transform', `translate(0,${o.base})`).call(d3.axisBottom(x).tickSizeOuter(0).tickSize(3).tickPadding(2.5)), {font: SERIF, weight: 'bold', size: 8.5, squeeze: 0.78, stroke: '#222', width: 1.2, color: '#222'});
  xAxis.selectAll('text').attr('dy', '.9em');
  txt(g, o.title, (o.x0 + o.x1) / 2, o.top - 20, {size: 10.5, weight: 'bold', anchor: 'middle', charW: 5, color: '#222'});
  txt(g, o.ylabel, o.labelX, (o.top + o.base) / 2 + 1, {size: 9.8, weight: 'bold', anchor: 'middle', rotate: -90, color: '#222'});
  groups.forEach((n, i) => {
    g.append('rect').attr('x', o.legendX).attr('y', o.top + 7.7 + i * 15.9 - 2.8).attr('width', 10).attr('height', 5.6).attr('fill', indexColors[i]);
    txt(g, n, o.legendX + 15.5, o.top + 7.7 + i * 15.9, {font: SERIF, weight: 'bold', size: 9, color: '#222'});
  });
  (o.brackets || []).forEach(b => {
    const xa = x(groups[b[0]]) + x.bandwidth() / 2, xb = x(groups[b[1]]) + x.bandwidth() / 2;
    g.append('path').attr('d', `M${xa},${y(b[2]) + 5.3}V${y(b[2])}H${xb}V${y(b[2]) + 5.3}`).attr('stroke', '#222').attr('stroke-width', 1).attr('fill', 'none');
    txt(g, b[3], (xa + xb) / 2, y(b[2]) - 3, {size: 9, weight: 'bold', anchor: 'middle', color: '#222'});
  });
}
const plainTick = d => d;
indexPanel({values: sobsValues, errors: sobsErrors, x0: 51.7, x1: 112.5, base: 1681, top: 1564, max: 400, ticks: [0, 100, 200, 300, 400], format: plainTick,
  title: 'Sobs', ylabel: 'Sobs index of OTU level', labelX: 28, legendX: 133.4, brackets: [[0, 1, 360, '***'], [0, 2, 400, '****']]});
indexPanel({values: shannonValues, errors: shannonErrors, x0: 210.8, x1: 272.3, base: 1682, top: 1564, max: 4, ticks: [0, 1, 2, 3, 4], format: plainTick,
  title: 'Shannon', ylabel: 'Shannon index of OTU level', labelX: 195, legendX: 294});
indexPanel({values: simpsonValues, errors: simpsonErrors, x0: 387.5, x1: 449.3, base: 1682, top: 1564.3, max: 0.25, ticks: [0, 0.05, 0.1, 0.15, 0.2, 0.25], format: d3.format('.2f'),
  title: 'Simpson', ylabel: 'Simpson index of OTU level', labelX: 361.8, legendX: 468.6, brackets: [[0, 1, 0.225, '**']]});
indexPanel({values: aceValues, errors: aceErrors, x0: 109.8, x1: 171.3, base: 1862.3, top: 1744.3, max: 500, ticks: [0, 100, 200, 300, 400, 500], format: plainTick,
  title: 'Ace', ylabel: 'Ace index of OTU level', labelX: 86, legendX: 192.6, brackets: [[0, 1, 426, '**'], [0, 2, 477, '**']]});
indexPanel({values: chaoValues, errors: chaoErrors, x0: 319.3, x1: 380.7, base: 1862.3, top: 1744.3, max: 500, ticks: [0, 100, 200, 300, 400, 500], format: plainTick,
  title: 'Chao', ylabel: 'Chao index of OTU level', labelX: 295, legendX: 402, brackets: [[0, 2, 474, '**']]});

// ---------- J cladogram ----------
function parseClade(s) {
  let i = 0;
  function node() {
    const n = {name: '', children: []};
    if (s[i] === '(') {
      i++;
      n.children.push(node());
      while (s[i] === ',') { i++; n.children.push(node()); }
      i++;
    }
    const st = i;
    while (i < s.length && !'(),'.includes(s[i])) i++;
    n.name = s.slice(st, i);
    if (!n.children.length) delete n.children;
    return n;
  }
  return node();
}
const panelJ = svg.append('g');
const cladeCx = 701.3, cladeCy = 1719.3, cladeStretch = 1.176;
const cladeSource = '(' + ['(' + cladeFirmicutes.join(',') + ')'].concat(cladeOthers).join(',') + ')';
const cladeRoot = d3.hierarchy(parseClade(cladeSource));
d3.cluster().size([351, 1]).separation((a, b) => {
  if (a.parent.children.length === 1 && b.parent.children.length === 1) return 3.6;
  return a.parent === b.parent ? 1 : 1.2;
})(cladeRoot);
const cladeR = d3.scaleLinear().domain([0, 5]).range([0, 113]);
const cladeAngle = d => (d.x + 2.7) * Math.PI / 180;
const cladeColorOf = name => cladeCtrl.includes(name) ? anovaColors[0] : cladeAgp.includes(name) ? anovaColors[1] : cladeMoa.includes(name) ? anovaColors[2] : null;
const cladeG = panelJ.append('g').attr('transform', `translate(${cladeCx},${cladeCy}) scale(1,${cladeStretch})`);

const cladeMarked = cladeRoot.descendants().filter(d => d.data.name).sort((a, b) => a.depth - b.depth);
const wedgeOuter = [0, 143, 142, 135, 128, 121];
const wedgeAlpha = [0, 0.06, 0.11, 0.13, 0.17, 0.2];
// the Bacilli wedge runs on over the two classes drawn after it
const wedgeLeaves = d => d.data.name === 'a1' ? d.parent.children.slice(2).flatMap(c => c.leaves()) : d.leaves();
cladeG.selectAll('path.wedge').data(cladeMarked).enter().append('path')
  .attr('class', 'wedge')
  .attr('d', d => {
    const leaves = wedgeLeaves(d);
    const a0 = d3.min(leaves, cladeAngle), a1 = d3.max(leaves, cladeAngle);
    const pad = leaves.length > 1 ? 0.022 : 0.03;
    return d3.arc().innerRadius(Math.max(cladeR(d.depth) - 2, 0)).outerRadius(wedgeOuter[d.depth])
      .startAngle(a0 - pad).endAngle(a1 + pad)();
  })
  .attr('fill', d => cladeColorOf(d.data.name))
  .attr('fill-opacity', d => wedgeAlpha[d.depth]);

const cladeLink = d => {
  const a0 = cladeAngle(d.parent), a1 = cladeAngle(d), r0 = cladeR(d.parent.depth), r1 = cladeR(d.depth);
  const p0 = d3.pointRadial(a0, r0), p1 = d3.pointRadial(a1, r0), p2 = d3.pointRadial(a1, r1);
  return `M${p0}A${r0},${r0} 0 0 ${a1 > a0 ? 1 : 0} ${p1}L${p2}`;
};
cladeG.selectAll('path.link').data(cladeRoot.descendants().slice(1)).enter().append('path')
  .attr('class', 'link').attr('d', cladeLink)
  .attr('fill', 'none').attr('stroke', '#a0a0a0').attr('stroke-width', 0.7);
const cladeNodeR = d => {
  const n = d.leaves().length;
  if (!d.children) return d.data.name ? 1.5 : 1.1;
  if (n === 1) return 1;
  return Math.min(3.4, 1 + 0.5 * Math.sqrt(n));
};
cladeG.selectAll('circle.node').data(cladeRoot.descendants().slice(1)).enter().append('circle')
  .attr('class', 'node')
  .attr('cx', d => d3.pointRadial(cladeAngle(d), cladeR(d.depth))[0])
  .attr('cy', d => d3.pointRadial(cladeAngle(d), cladeR(d.depth))[1])
  .attr('r', cladeNodeR)
  .attr('fill', d => cladeColorOf(d.data.name) || '#ffff00')
  .attr('stroke', d => cladeColorOf(d.data.name) ? 'none' : '#9a9a20').attr('stroke-width', 0.4);
cladeMarked.forEach(d => {
  const deg = d.x + 2.7;
  const p = d3.pointRadial(cladeAngle(d), cladeR(d.depth) + 7);
  txt(panelJ, d.data.name, cladeCx + p[0], cladeCy + p[1] * cladeStretch, {size: 7.5, anchor: 'middle', rotate: deg < 180 ? deg - 90 : deg + 90, color: '#222'});
});
txt(panelJ, 'Cladogram', 701.5, 1505.5, {size: 13, anchor: 'middle', color: '#222'});
groups.forEach((n, i) => {
  panelJ.append('rect').attr('x', 524).attr('y', 1553 + i * 12).attr('width', 10).attr('height', 8.5).attr('fill', anovaColors[i]);
  txt(panelJ, n, 538.7, 1557.3 + i * 12, {size: 7});
});
cladeLegend.forEach((n, i) => {
  panelJ.append('rect').attr('x', 887.3).attr('y', 1553.3 + i * 8.98).attr('width', 7.7).attr('height', 3.6).attr('fill', anovaColors[cladeLegendGroups[i]]);
  txt(panelJ, n, 900, 1555.3 + i * 8.98, {size: 4.3, color: '#444'});
});

// ---------- K LEfSe ----------
const panelK = svg.append('g');
const lefseNames = lefseCtrlNames.concat(lefseAgpNames, lefseMoaNames);
const lefseValues = lefseCtrl.concat(lefseAgp, lefseMoa);
const lefseFill = lefseCtrl.map(() => 0).concat(lefseAgp.map(() => 1), lefseMoa.map(() => 2));
const lefseX = d3.scaleLinear().domain([0, 5.72]).range([1163.6, 1441]);
const lefseY = d3.scaleBand().domain(lefseNames.map((d, i) => i)).range([1081, 1899]).paddingInner(0.1);
panelK.selectAll('rect.lda').data(lefseValues).enter().append('rect')
  .attr('class', 'lda')
  .attr('x', lefseX(0)).attr('y', (d, i) => lefseY(i))
  .attr('width', d => lefseX(d) - lefseX(0)).attr('height', lefseY.bandwidth())
  .attr('fill', (d, i) => ['#ff4d4d', '#4d4dff', '#4da64d'][lefseFill[i]])
  .attr('stroke', '#666').attr('stroke-width', 0.9);
lefseNames.forEach((n, i) => txt(panelK, n, 1158, lefseY(i) + lefseY.bandwidth() / 2 - 1, {font: MONO, size: 9.5, charW: 4.17, anchor: 'end', color: '#444'}));
styleAxis(panelK.append('g').attr('transform', 'translate(0,1908.3)').call(d3.axisBottom(lefseX).tickValues([0].concat(lefseTicks)).tickFormat(d => d === 0 ? '' : d3.format('.1f')(d)).tickSize(4).tickSizeOuter(4).tickPadding(3)), {font: MONO, size: 9, charW: 4.3, stroke: '#888', color: '#444'});
txt(panelK, '0.0', 1163.6, 1924, {font: MONO, size: 9, charW: 4.3, anchor: 'middle', color: '#444'});
txt(panelK, 'LDA SCORE(log10)', 1301, 1936, {font: MONO, size: 8.5, charW: 4.1, anchor: 'middle', color: '#444'});
txt(panelK, 'LEfSe Bar', 1163, 1054, {font: MONO, size: 11.5, charW: 6.2, anchor: 'middle', color: '#444'});
groups.forEach((n, i) => {
  panelK.append('rect').attr('x', 1461).attr('y', 1057.5 + i * 12.35).attr('width', 12.3).attr('height', 5).attr('fill', anovaColors[i]).attr('stroke', '#555').attr('stroke-width', 0.7);
  txt(panelK, n, 1475, 1062.5 + i * 12.35, {font: MONO, size: 8, charW: 4.2, color: '#555'});
});

// ---------- L, M ANOVA ----------
function anovaPanel(o) {
  const g = svg.append('g');
  const y = d3.scaleBand().domain(o.rows).range([o.top, o.bottom]);
  const inner = d3.scaleBand().domain(groups).range([o.innerPad, y.bandwidth() - o.innerPad]).paddingInner(0.02);
  g.selectAll('rect.stripe').data(o.rows.filter((d, i) => i % 2 === 0)).enter().append('rect')
    .attr('class', 'stripe').attr('x', o.x.range()[0]).attr('width', o.stripeEnd - o.x.range()[0])
    .attr('y', d => y(d)).attr('height', y.bandwidth()).attr('fill', '#f4f4f4');
  groups.forEach((n, k) => {
    g.selectAll(null).data(o.ends[k]).enter().append('path')
      .attr('d', (e, i) => {
        const c = y(o.rows[i]) + inner(n) + inner.bandwidth() / 2;
        return `M${o.x(o.means[k][i])},${c}H${o.x(e)}M${o.x(e)},${c - 1.5}V${c + 1.5}`;
      })
      .attr('stroke', '#666').attr('stroke-width', 0.8).attr('fill', 'none');
    g.selectAll(null).data(o.means[k]).enter().append('rect')
      .attr('x', o.x(0)).attr('width', d => o.x(d) - o.x(0))
      .attr('y', (d, i) => y(o.rows[i]) + inner(n)).attr('height', inner.bandwidth())
      .attr('fill', anovaColors[k]).attr('stroke', '#333').attr('stroke-width', 0.4);
  });
  o.rows.forEach((r, i) => {
    const c = y(r) + y.bandwidth() / 2;
    txt(g, r, o.x(0) - 3.5, c, {font: MONO, size: 6.4, charW: 2.86, anchor: 'end', color: '#444'});
    txt(g, o.stars[i], o.starX, c + 1.5, {font: MONO, size: 10, charW: 3.6, anchor: 'middle', color: '#ff6a6a', weight: 'bold'});
    txt(g, o.pvalues[i], o.pX, c, {font: MONO, size: 6.6, charW: 3, color: '#444'});
  });
  styleAxis(g.append('g').attr('transform', `translate(0,${o.axisY})`).call(d3.axisBottom(o.x).tickValues(o.ticks).tickFormat(o.format).tickSize(2.5).tickSizeOuter(2.5).tickPadding(2)), {font: MONO, size: 6.2, charW: 2.9, stroke: '#aaa', color: '#444'});
  txt(g, 'Mean proportions(%)', o.labelX, o.labelY, {font: MONO, size: 6.4, charW: 3, anchor: 'middle', color: '#444'});
  txt(g, 'One-way ANOVA bar plot', o.titleX, o.titleY, {font: MONO, size: 10.5, charW: 4.7, anchor: 'middle', color: '#555'});
  txt(g, 'Pvalue', o.pvalX, o.pvalY, {font: MONO, size: 6.4, charW: 3, anchor: 'middle', rotate: 90, color: '#444'});
  groups.forEach((n, i) => {
    g.append('rect').attr('x', o.legendX).attr('y', o.legendY + i * o.legendStep - 2).attr('width', 9).attr('height', 4).attr('fill', anovaColors[i]).attr('stroke', '#333').attr('stroke-width', 0.4);
    txt(g, n, o.legendX + 9.5, o.legendY + i * o.legendStep, {font: MONO, size: 6.4, charW: 2.9, color: '#444'});
  });
}
anovaPanel({rows: anovaLRows, means: anovaLMeans, ends: anovaLEnds, pvalues: anovaLP, stars: anovaLStars,
  x: d3.scaleLinear().domain([0, 0.06167]).range([1562.7, 1795]), stripeEnd: 1795, top: 1311.7, bottom: 1347.3, innerPad: 2.3,
  starX: 1796.7, pX: 1809, axisY: 1349.3, ticks: d3.range(0, 0.0601, 0.005), format: d3.format('.3f'),
  labelX: 1676, labelY: 1369.3, titleX: 1714, titleY: 1275.7, pvalX: 1848, pvalY: 1329, legendX: 1918.3, legendY: 1303.7, legendStep: 8.8});
anovaPanel({rows: anovaMRows, means: [anovaMCtrl, anovaMAgp, anovaMMoa], ends: [anovaMCtrlEnd, anovaMAgpEnd, anovaMMoaEnd], pvalues: anovaMP, stars: anovaMStars,
  x: d3.scaleLinear().domain([0, 44]).range([1609, 1810]), stripeEnd: 1814.7, top: 1649.1, bottom: 1823.5, innerPad: 2.3,
  starX: 1816.3, pX: 1828.7, axisY: 1825, ticks: d3.range(0, 41, 5), format: d => d,
  labelX: 1709, labelY: 1849.3, titleX: 1742.7, titleY: 1607, pvalX: 1868, pvalY: 1736, legendX: 1923.7, legendY: 1639.7, legendStep: 10.3});
</script>
</body>
</html>
